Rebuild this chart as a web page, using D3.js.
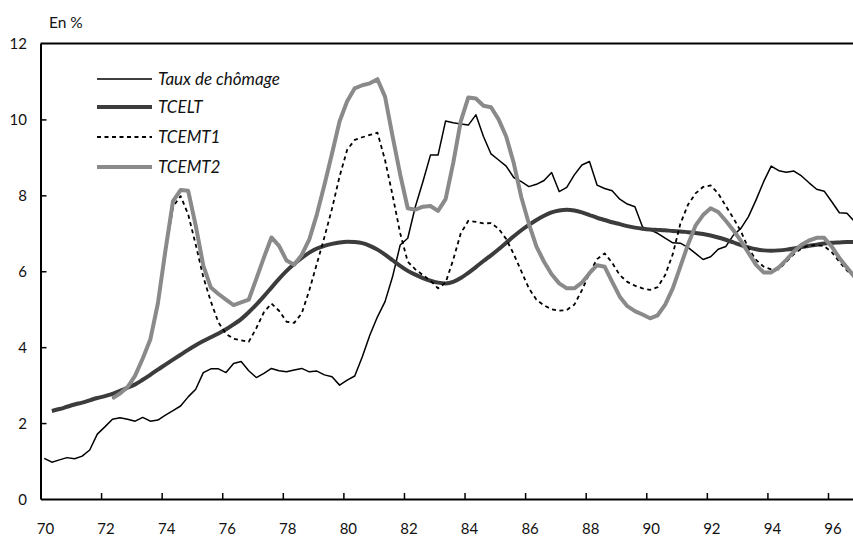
<!DOCTYPE html>
<html>
<head>
<meta charset="utf-8">
<script src="https://cdn.jsdelivr.net/npm/d3@7"></script>
<style>
  body { margin: 0; background: #fff; }
  svg { display: block; }
  text { font-family: Lato, "Noto Sans", sans-serif; fill: #111; }
</style>
</head>
<body>
<div id="viz"></div>
<script>
// quarterly series, 1970Q1 .. 1996Q4 (null = not computed yet)
var firstYear = 70;

var chomage = [1.07, 0.97, 1.03, 1.09, 1.06, 1.13, 1.29, 1.71, 1.90, 2.10,
  2.14, 2.10, 2.05, 2.15, 2.05, 2.08, 2.21, 2.33, 2.45, 2.69,
  2.89, 3.33, 3.43, 3.43, 3.33, 3.57, 3.62, 3.38, 3.20, 3.31,
  3.44, 3.38, 3.35, 3.40, 3.44, 3.35, 3.37, 3.27, 3.22, 3.00,
  3.13, 3.24, 3.75, 4.32, 4.80, 5.20, 5.86, 6.69, 6.87, 7.70,
  8.36, 9.06, 9.06, 9.96, 9.91, 9.88, 9.85, 10.12, 9.55, 9.09,
  8.93, 8.77, 8.47, 8.36, 8.23, 8.29, 8.39, 8.60, 8.10, 8.21,
  8.54, 8.80, 8.89, 8.27, 8.18, 8.12, 7.90, 7.77, 7.70, 7.17,
  7.09, 7.00, 6.87, 6.75, 6.74, 6.63, 6.47, 6.31, 6.38, 6.58,
  6.65, 6.95, 7.13, 7.44, 7.88, 8.36, 8.77, 8.65, 8.61, 8.64,
  8.51, 8.33, 8.16, 8.11, 7.83, 7.54, 7.53, 7.31];

var tcelt = [null, 2.32, 2.37, 2.43, 2.49, 2.54, 2.60, 2.66, 2.71, 2.77,
  2.85, 2.93, 3.02, 3.14, 3.27, 3.41, 3.54, 3.67, 3.80, 3.93,
  4.05, 4.16, 4.26, 4.36, 4.47, 4.60, 4.74, 4.92, 5.12, 5.34,
  5.57, 5.80, 6.01, 6.19, 6.35, 6.49, 6.60, 6.67, 6.72, 6.76,
  6.78, 6.77, 6.74, 6.67, 6.57, 6.44, 6.29, 6.14, 6.01, 5.91,
  5.82, 5.75, 5.70, 5.68, 5.72, 5.82, 5.96, 6.11, 6.27, 6.42,
  6.58, 6.75, 6.92, 7.08, 7.22, 7.35, 7.46, 7.55, 7.60, 7.62,
  7.60, 7.55, 7.48, 7.41, 7.35, 7.29, 7.24, 7.19, 7.15, 7.12,
  7.10, 7.09, 7.08, 7.06, 7.05, 7.03, 7.01, 6.98, 6.94, 6.89,
  6.83, 6.76, 6.69, 6.63, 6.58, 6.55, 6.54, 6.55, 6.57, 6.60,
  6.64, 6.67, 6.70, 6.73, 6.75, 6.76, 6.77, 6.77];

var tcemt1 = [null, null, null, null, null, null, null, null, null, 2.65,
  2.78, 2.95, 3.25, 3.68, 4.17, 5.10, 6.45, 7.70, 7.98, 7.50,
  6.70, 5.85, 5.20, 4.65, 4.35, 4.22, 4.18, 4.14, 4.50, 4.92,
  5.15, 4.96, 4.67, 4.64, 4.89, 5.50, 6.20, 6.90, 7.65, 8.50,
  9.20, 9.46, 9.53, 9.59, 9.65, 8.93, 8.00, 7.00, 6.25, 6.05,
  5.90, 5.75, 5.55, 5.70, 6.30, 7.00, 7.33, 7.30, 7.26, 7.27,
  7.12, 6.85, 6.45, 6.00, 5.55, 5.25, 5.10, 5.00, 4.96, 4.98,
  5.12, 5.50, 5.95, 6.32, 6.47, 6.22, 5.90, 5.72, 5.62, 5.55,
  5.51, 5.58, 5.90, 6.45, 7.25, 7.75, 8.05, 8.22, 8.26, 8.05,
  7.72, 7.40, 7.05, 6.60, 6.30, 6.12, 6.05, 6.05, 6.25, 6.45,
  6.60, 6.68, 6.69, 6.66, 6.50, 6.25, 6.02, 5.85];

var tcemt2 = [null, null, null, null, null, null, null, null, null, 2.65,
  2.78, 2.95, 3.25, 3.70, 4.20, 5.15, 6.55, 7.85, 8.14, 8.12,
  7.20, 6.15, 5.57, 5.40, 5.25, 5.11, 5.18, 5.25, 5.80, 6.36,
  6.89, 6.67, 6.28, 6.17, 6.43, 6.84, 7.50, 8.28, 9.10, 9.95,
  10.48, 10.82, 10.90, 10.95, 11.06, 10.60, 9.55, 8.55, 7.66, 7.62,
  7.70, 7.72, 7.59, 7.90, 8.85, 9.95, 10.58, 10.55, 10.36, 10.32,
  10.00, 9.55, 8.85, 7.95, 7.25, 6.65, 6.25, 5.92, 5.68, 5.55,
  5.55, 5.70, 5.95, 6.16, 6.12, 5.72, 5.33, 5.08, 4.95, 4.86,
  4.76, 4.84, 5.12, 5.55, 6.12, 6.70, 7.20, 7.48, 7.66, 7.56,
  7.33, 7.08, 6.80, 6.48, 6.17, 5.97, 5.97, 6.10, 6.30, 6.52,
  6.70, 6.81, 6.88, 6.88, 6.65, 6.35, 6.10, 5.85];

var seriesNames = ["Taux de chômage", "TCELT", "TCEMT1", "TCEMT2"];
var xTicks = [70, 72, 74, 76, 78, 80, 82, 84, 86, 88, 90, 92, 94, 96];
var yTicks = [0, 2, 4, 6, 8, 10, 12];

var W = 853, H = 537,
    plotLeft = 40.5, plotRight = 854.5, plotTop = 43.5, plotBottom = 499;

var x = d3.scaleLinear().domain([70, 96.875]).range([plotLeft, plotRight]);
var y = d3.scaleLinear().domain([0, 12]).range([plotBottom, plotTop]);

var svg = d3.select('#viz').append('svg')
  .attr('width', W)
  .attr('height', H);

// frame: left axis, top line, bottom axis
svg.append('line')
  .attr('x1', plotLeft).attr('x2', W).attr('y1', plotTop).attr('y2', plotTop)
  .attr('stroke', '#000').attr('stroke-width', 2);

var yAxis = svg.append('g')
  .attr('transform', 'translate(' + plotLeft + ',0)')
  .call(d3.axisRight(y).tickValues(yTicks).tickSize(6).tickSizeOuter(0).tickFormat(''));
yAxis.select('.domain').attr('stroke-width', 2);
yAxis.selectAll('.tick line').attr('stroke-width', 1.5);
yAxis.selectAll('.tick').filter(function(d) { return d === 0 || d === 12; }).select('line').remove();

var xAxis = svg.append('g')
  .attr('transform', 'translate(0,' + plotBottom + ')')
  .call(d3.axisTop(x).tickValues(xTicks).tickSize(6).tickFormat('').tickSizeOuter(0));
xAxis.select('.domain').attr('stroke-width', 2);
xAxis.selectAll('.tick line').attr('stroke-width', 1.5);
xAxis.selectAll('.tick').filter(function(d) { return d === 70; }).select('line').remove();

// tick labels
svg.selectAll('.ylab').data(yTicks).enter().append('text')
  .attr('class', 'ylab')
  .attr('x', 27)
  .attr('y', function(d) { return y(d) + 5.5; })
  .attr('text-anchor', 'end')
  .style('font-size', '15px')
  .text(function(d) { return d; });

svg.selectAll('.xlab').data(xTicks).enter().append('text')
  .attr('class', 'xlab')
  .attr('x', function(d) { return x(d) + 5; })
  .attr('y', 534)
  .attr('text-anchor', 'middle')
  .style('font-size', '15px')
  .text(function(d) { return d; });

svg.append('text')
  .attr('x', 49).attr('y', 28)
  .style('font-size', '15.5px')
  .text('En %');

// lines
var line = d3.line()
  .defined(function(d) { return d != null; })
  .x(function(d, i) { return x(firstYear + (i + 0.5) / 4); })
  .y(function(d) { return y(d); });

var styles = [
  { data: chomage, color: '#000', width: 1.5, dash: null, curve: d3.curveLinear },
  { data: tcelt, color: '#3c3c3c', width: 4, dash: null, curve: d3.curveMonotoneX },
  { data: tcemt1, color: '#000', width: 1.8, dash: '4,3.5', curve: d3.curveLinear },
  { data: tcemt2, color: '#8a8a8a', width: 4, dash: null, curve: d3.curveLinear }
];

styles.forEach(function(s) {
  svg.append('path')
    .attr('d', line.curve(s.curve)(s.data))
    .attr('fill', 'none')
    .attr('stroke', s.color)
    .attr('stroke-width', s.width)
    .attr('stroke-linejoin', 'round')
    .attr('stroke-dasharray', s.dash);
});

// legend
var legendY = [79, 107, 137, 167];
var legend = svg.selectAll('.leg').data(styles).enter().append('g')
  .attr('class', 'leg')
  .attr('transform', function(d, i) { return 'translate(0,' + legendY[i] + ')'; });

legend.append('line')
  .attr('x1', 97).attr('x2', 152)
  .attr('stroke', function(d) { return d.color; })
  .attr('stroke-width', function(d) { return d.width; })
  .attr('stroke-dasharray', function(d) { return d.dash; });

legend.append('text')
  .attr('x', 158).attr('y', 6)
  .style('font-size', '17px')
  .style('font-style', 'italic')
  .text(function(d, i) { return seriesNames[i]; });
</script>
</body>
</html>
